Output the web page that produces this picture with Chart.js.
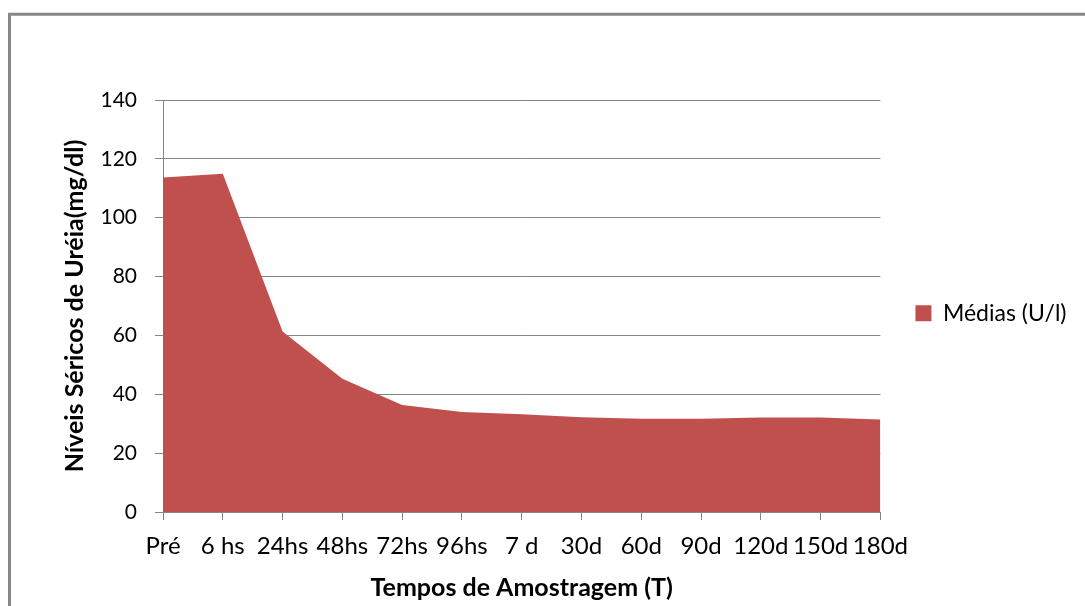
<!DOCTYPE html>
<html>
<head>
<meta charset="utf-8">
<script src="https://cdn.jsdelivr.net/npm/chart.js@4"></script>
<style>
  html, body { margin: 0; padding: 0; background: #fff; }
  #wrap { width: 1085px; height: 606px; }
</style>
</head>
<body>
<div id="wrap"><canvas id="myChart" width="1085" height="606"></canvas></div>
<script>
const labels = ['Pré', '6 hs', '24hs', '48hs', '72hs', '96hs', '7 d', '30d', '60d', '90d', '120d', '150d', '180d'];
const medias = [113.7, 114.9, 61.3, 45.3, 36.4, 34.0, 33.2, 32.2, 31.7, 31.7, 32.1, 32.1, 31.4];
const yTicks = [0, 20, 40, 60, 80, 100, 120, 140];

const gridGray = '#868686';

// white background + the gray frame of the original picture
const framePlugin = {
    id: 'frame',
    beforeDraw: function (chart) {
        const c = chart.ctx;
        c.save();
        c.fillStyle = '#fff';
        c.fillRect(0, 0, chart.width, chart.height);
        c.strokeStyle = '#878787';
        c.lineWidth = 3;
        c.beginPath();
        c.moveTo(9.5, chart.height + 5);
        c.lineTo(9.5, 14.3);
        c.lineTo(chart.width + 5, 14.3);
        c.stroke();
        c.restore();
    }
};

Chart.defaults.font.family = 'Lato';
Chart.defaults.color = '#000';

var ctx = document.getElementById('myChart').getContext('2d');
var myChart = new Chart(ctx, {
    type: 'line',
    data: {
        labels: labels,
        datasets: [{
            label: 'Médias (U/l)',
            data: medias,
            fill: 'origin',
            backgroundColor: '#C0504D',
            borderColor: '#C0504D',
            borderWidth: 0,
            pointRadius: 0,
            tension: 0
        }]
    },
    plugins: [framePlugin],
    options: {
        responsive: false,
        animation: false,
        layout: { padding: { top: 100, left: 0, right: 8.5, bottom: 0 } },
        scales: {
            x: {
                offset: false,
                afterFit: function (scale) { scale.height = 94; },
                title: {
                    display: true,
                    text: 'Tempos de Amostragem (T)',
                    font: { size: 25, weight: 'bold' },
                    padding: { top: 0, bottom: 3 }
                },
                ticks: {
                    autoSkip: false,
                    maxRotation: 0,
                    padding: 12,
                    font: { size: 24 }
                },
                grid: {
                    drawOnChartArea: false,
                    color: gridGray,
                    tickLength: 8
                },
                border: { color: gridGray }
            },
            y: {
                min: 0,
                max: 140,
                afterFit: function (scale) { scale.width = 163; },
                afterBuildTicks: function (scale) {
                    scale.ticks = yTicks.map(v => ({ value: v }));
                },
                title: {
                    display: true,
                    text: 'Níveis Séricos de Uréia(mg/dl)',
                    font: { size: 25, weight: 'bold' },
                    padding: { top: 60, bottom: 0 }
                },
                ticks: {
                    padding: 18,
                    font: { size: 21 }
                },
                grid: {
                    color: gridGray,
                    tickLength: 8
                },
                border: { color: gridGray }
            }
        },
        plugins: {
            legend: {
                position: 'right',
                fullSize: false,
                // empty title only pushes the single item down a little
                title: { display: true, text: '', padding: 0, font: { size: 12 } },
                labels: {
                    boxWidth: 16,
                    boxHeight: 16,
                    padding: 35,
                    font: { size: 23 }
                }
            },
            tooltip: { enabled: false }
        }
    }
});
</script>
</body>
</html>
